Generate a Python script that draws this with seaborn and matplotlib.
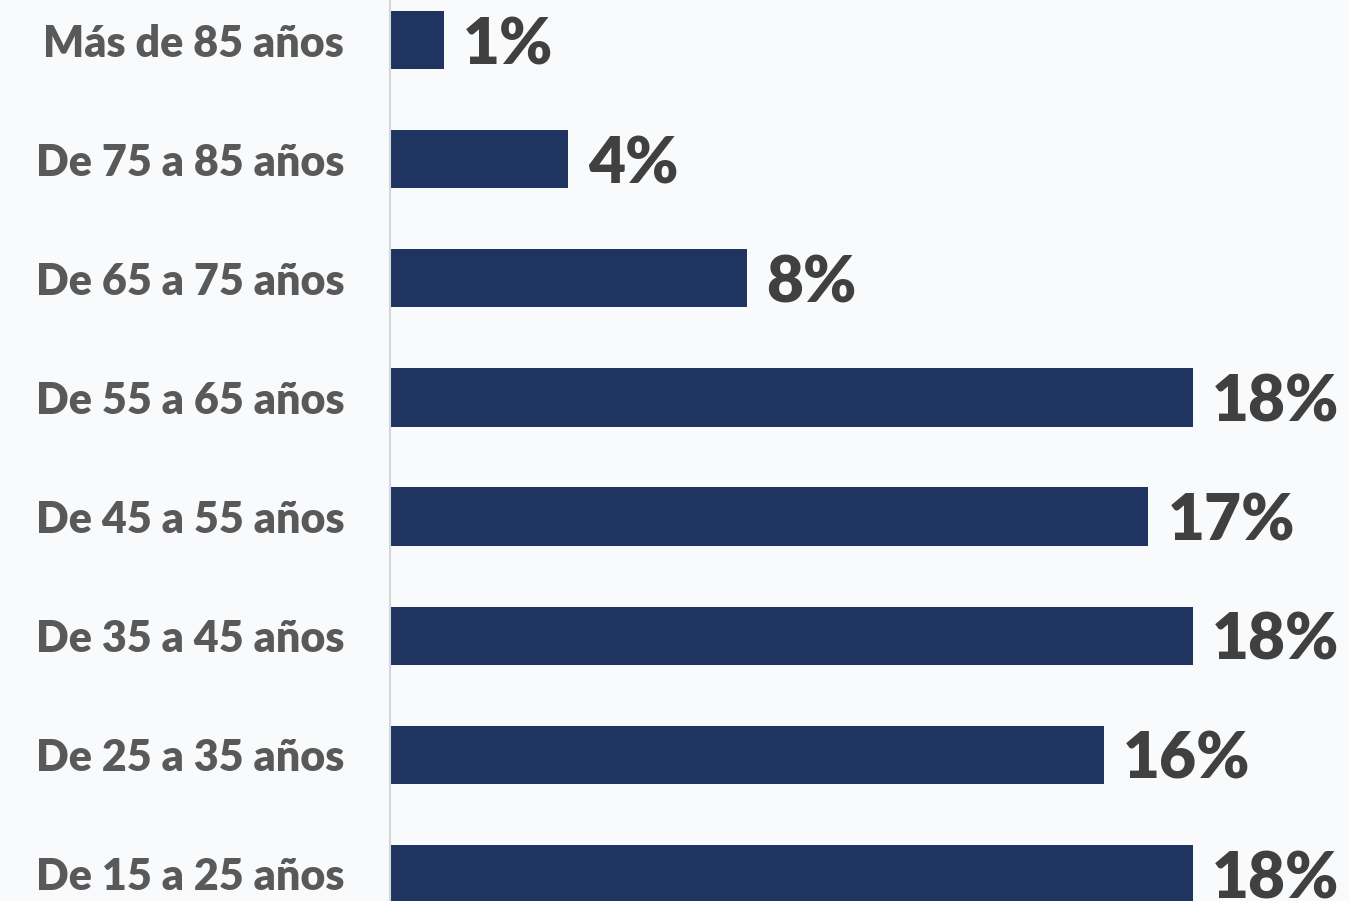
import matplotlib
matplotlib.use("Agg")
import matplotlib.pyplot as plt
import seaborn as sns
import pandas as pd

categories = ["Más de 85 años", "De 75 a 85 años", "De 65 a 75 años", "De 55 a 65 años",
              "De 45 a 55 años", "De 35 a 45 años", "De 25 a 35 años", "De 15 a 25 años"]
values = [1.2, 4, 8, 18, 17, 18, 16, 18]
value_labels = ["1%", "4%", "8%", "18%", "17%", "18%", "16%", "18%"]

df = pd.DataFrame({"cat": categories, "val": values})

sns.set_theme(style="white")
plt.rcParams["font.family"] = ["Lato", "DejaVu Sans"]

fig = plt.figure(figsize=(13.49, 9.01), dpi=100, facecolor="#F9FAFC")
ax = fig.add_axes([390/1349, 0, 1 - 390/1349, 1])
ax.set_facecolor("#F9FAFC")

sns.barplot(data=df, x="val", y="cat", color="#1F3461", width=0.49, ax=ax,
            saturation=1, edgecolor="none", orient="h")

ax.set_xlim(0, (1349 - 390) / 44.6)
ax.set_ylim(7.227, -0.336)
ax.set_xlabel("")
ax.set_ylabel("")
ax.set_xticks([])
for s in ["top", "right", "bottom"]:
    ax.spines[s].set_visible(False)
ax.spines["left"].set_color("#D3D6DB")
ax.spines["left"].set_linewidth(1.5)
ax.tick_params(axis="y", length=0, pad=33)
for t in ax.get_yticklabels():
    t.set_fontsize(31)
    t.set_fontweight("heavy")
    t.set_color("#595959")

for i, (v, lab) in enumerate(zip(values, value_labels)):
    ax.annotate(lab, xy=(v, i), xytext=(14, -4), textcoords="offset points",
                va="center", ha="left", fontsize=46, fontweight="heavy", color="#404040")

fig.savefig("out.png", dpi=100, facecolor=fig.get_facecolor())
